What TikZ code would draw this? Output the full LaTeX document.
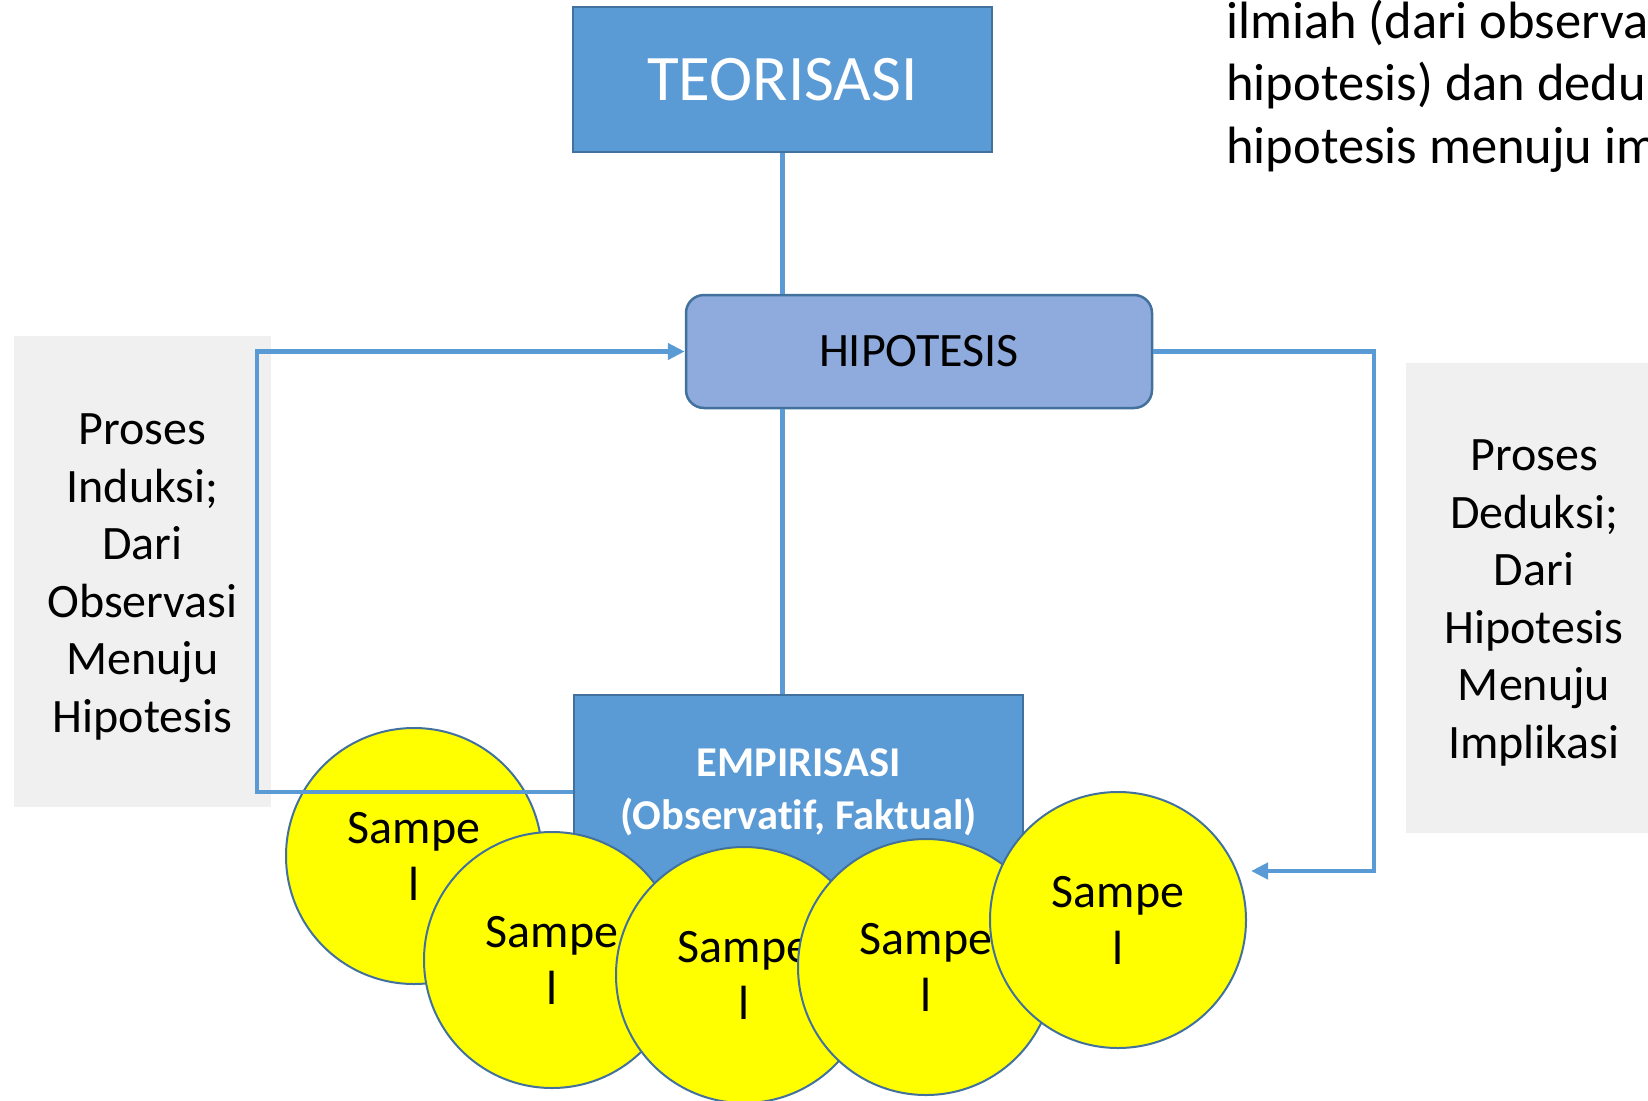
\documentclass[tikz,border=0pt]{standalone}
\usepackage{fontspec}
\setmainfont{Carlito}[Ligatures=NoCommon]
\usetikzlibrary{arrows.meta,calc}
\definecolor{boxblue}{HTML}{5B9BD5}
\definecolor{boxedge}{HTML}{41719C}
\definecolor{hipfill}{HTML}{8FAADC}
\definecolor{panelgray}{HTML}{F0F0F0}
\definecolor{sampyellow}{HTML}{FFFF00}
\tikzset{
  bluebox/.style={draw=boxedge, line width=2.5pt, fill=boxblue, text=white, inner sep=0pt, align=center},
  hipbox/.style={draw=boxedge, line width=2.5pt, fill=hipfill, rounded corners=18pt, inner sep=0pt, align=center,
    font=\fontsize{48}{56}\selectfont},
  panelbox/.style={fill=panelgray, draw=none, inner sep=0pt},
  paneltext/.style={inner sep=0pt, align=center, font=\fontsize{48}{57.6}\selectfont},
  samp/.style={circle, draw=boxedge, line width=2pt, fill=sampyellow, minimum size=256pt, inner sep=0pt,
    align=center, font=\fontsize{48}{57}\selectfont},
  notetext/.style={anchor=base west, inner sep=0pt, font=\fontsize{52.5}{62.5}\selectfont},
  conn/.style={draw=boxblue, line width=4.5pt},
  tip/.style={-{Triangle[length=17pt,width=16pt]}},
}
\begin{document}
\begin{tikzpicture}[x=1pt,y=-1pt]
\useasboundingbox (0,0) rectangle (1648,1100);
\begin{scope}
\clip (0,0) rectangle (1648,1100);
% side panels
\node[panelbox, minimum width=257pt, minimum height=471pt] (lpbox) at (142.5,571.5) {};
\node[paneltext] (lp) at ([yshift=-5.5pt]lpbox.center)
  {Proses\\Induksi;\\Dari\\Observasi\\Menuju\\Hipotesis};
\node[panelbox, minimum width=256pt, minimum height=470pt] (rpbox) at (1534,598) {};
\node[paneltext] (rp) at ([yshift=-5pt]rpbox.center)
  {Proses\\Deduksi;\\Dari\\Hipotesis\\Menuju\\Implikasi};
% top-right text
\node[notetext] (note1) at (1226,38) {ilmiah (dari observa};
\node[notetext] (note2) at (1226,100.5) {hipotesis) dan dedu};
\node[notetext] (note3) at (1226,163) {hipotesis menuju im};
% main boxes
\node[bluebox, minimum width=419pt, minimum height=145pt, font=\fontsize{65}{72}\selectfont] (teo) at (782.5,79.5) {TEORISASI};
\node[hipbox, minimum width=466pt, minimum height=113pt] (hip) at (919,351.5) {HIPOTESIS};
\node[bluebox, minimum width=449pt, minimum height=194pt, font=\bfseries\fontsize{42.5}{53}\selectfont] (emp) at (798.5,792)
  {EMPIRISASI\\(Observatif, Faktual)};
% sample circles
\node[samp] (c1) at (414,856) {Sampe\\l};
\node[samp] (c2) at (552,960) {Sampe\\l};
\node[samp] (c3) at (744,975) {Sampe\\l};
\node[samp] (c4) at (926,967) {Sampe\\l};
\node[samp] (c5) at (1118,920) {Sampe\\l};
% connectors
\coordinate (lx) at (257,0);
\coordinate (rx) at (1374,0);
\coordinate (dend) at (1251,871);
\draw[conn] (teo.south) -- (teo.south |- hip.north);
\draw[conn] (teo.south |- hip.south) -- (teo.south |- emp.north);
\draw[conn, tip] (emp.west) -- (lx |- emp.west) -- (lx |- hip.west) -- (hip.west);
\draw[conn, tip] (hip.east) -- (rx |- hip.east) -- (rx |- dend) -- (dend);
\end{scope}
\end{tikzpicture}
\end{document}
